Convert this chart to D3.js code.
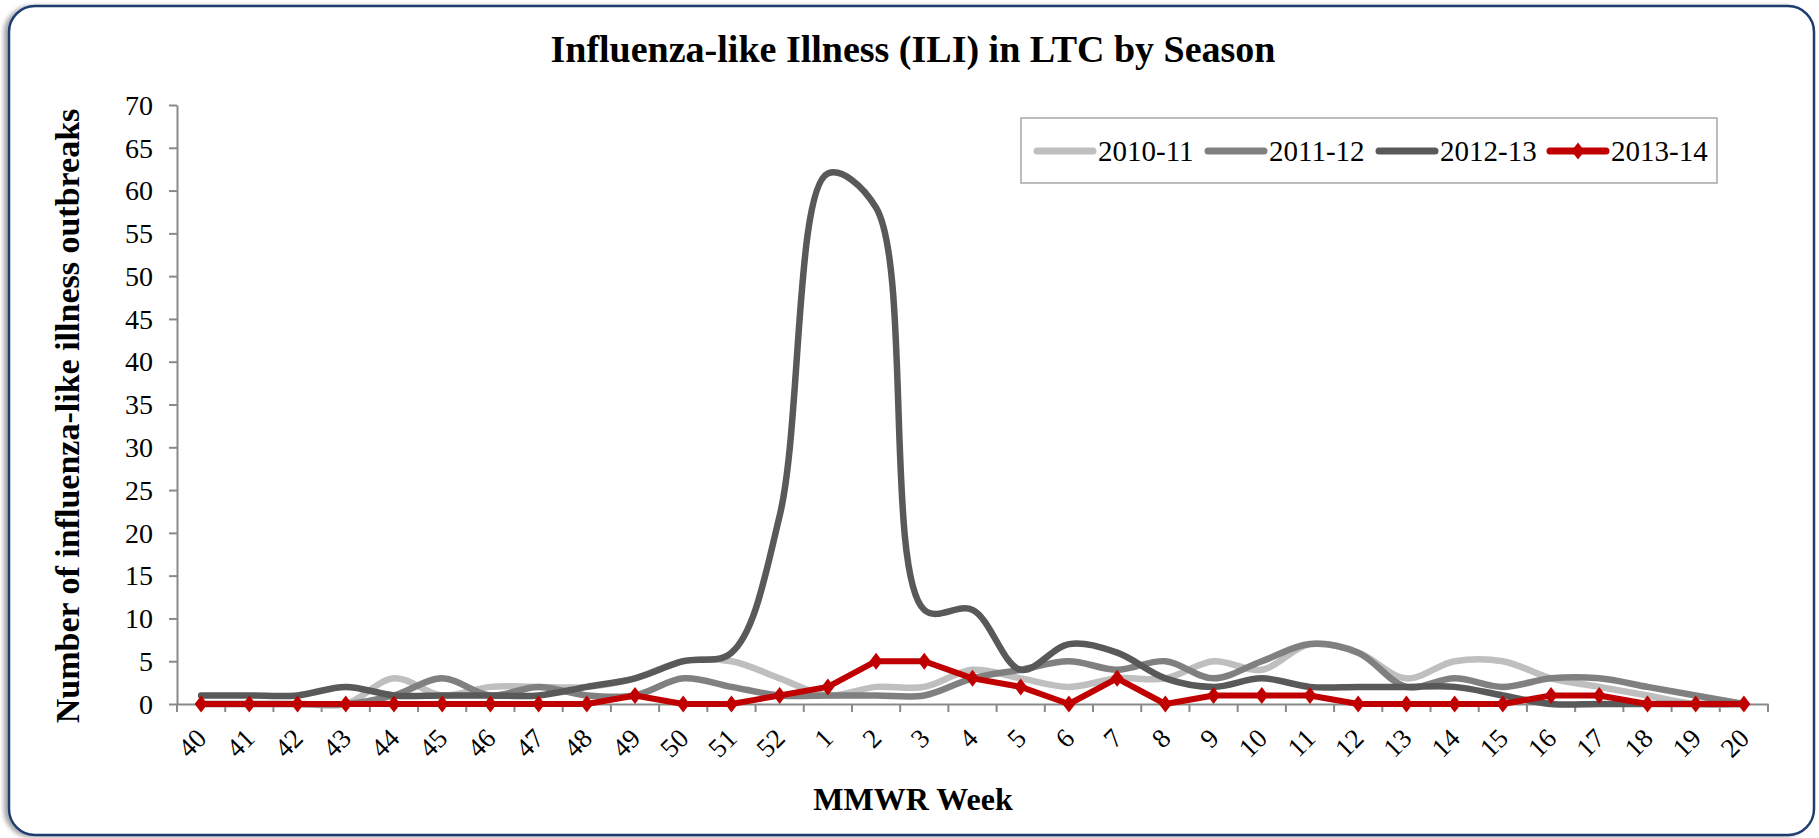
<!DOCTYPE html>
<html>
<head>
<meta charset="utf-8">
<script src="https://cdnjs.cloudflare.com/ajax/libs/d3/7.8.5/d3.min.js"></script>
<style>
    body { margin: 0; background: #fff; }
    svg { display: block; }
    text { font-family: "Liberation Serif", "Times New Roman", serif; fill: #000; }
</style>
</head>
<body>
<script>
// MMWR weeks, season runs week 40 -> week 20
var weeks = ["40", "41", "42", "43", "44", "45", "46", "47", "48", "49", "50", "51", "52",
             "1", "2", "3", "4", "5", "6", "7", "8", "9", "10", "11", "12", "13", "14", "15",
             "16", "17", "18", "19", "20"];

var season1011 = [0, 0, 0, 0, 3, 1, 2, 2, 2, 3, 5, 5, 3, 1, 2, 2, 4, 3, 2, 3, 3, 5, 4, 7, 6, 3, 5, 5, 3, 2, 1, 0, 0];
var season1112 = [0, 0, 0, 0, 1, 3, 1, 2, 1, 1, 3, 2, 1, 1, 1, 1, 3, 4, 5, 4, 5, 3, 5, 7, 6, 2, 3, 2, 3, 3, 2, 1, 0];
var season1213 = [1, 1, 1, 2, 1, 1, 1, 1, 2, 3, 5, 6, 22, 62, 58, 11, 11, 4, 7, 6, 3, 2, 3, 2, 2, 2, 2, 1, 0, 0, 0, 0, 0];
var season1314 = [0, 0, 0, 0, 0, 0, 0, 0, 0, 1, 0, 0, 1, 2, 5, 5, 3, 2, 0, 3, 0, 1, 1, 1, 0, 0, 0, 0, 1, 1, 0, 0, 0];

var seasonNames = ["2010-11", "2011-12", "2012-13", "2013-14"];
var yTicks = d3.range(0, 71, 5);

var colors = ["#bfbfbf", "#808080", "#595959", "#c00000"];
var axisColor = "#898989";

var width = 1819,
    height = 838;

var svg = d3.select("body").append("svg")
    .attr("width", width)
    .attr("height", height);

// frame with a soft shadow on the left
var filter = svg.append("defs").append("filter")
    .attr("id", "shade")
    .attr("x", "-2%").attr("y", "-2%")
    .attr("width", "104%").attr("height", "104%");
filter.append("feDropShadow")
    .attr("dx", -4).attr("dy", 1)
    .attr("stdDeviation", 2)
    .attr("flood-color", "#000")
    .attr("flood-opacity", 0.35);

svg.append("rect")
    .attr("x", 9).attr("y", 6)
    .attr("width", 1805).attr("height", 829)
    .attr("rx", 26).attr("ry", 26)
    .attr("fill", "#fff")
    .attr("stroke", "#1f3d6e")
    .attr("stroke-width", 2.5)
    .attr("filter", "url(#shade)");

var x = d3.scaleBand().domain(weeks).range([177, 1768]);
var y = d3.scaleLinear().domain([0, 70]).range([704, 105]);

function cx(i) { return x(weeks[i]) + x.bandwidth() / 2; }

// y axis
var yAxis = svg.append("g")
    .attr("transform", "translate(177,0)")
    .call(d3.axisLeft(y).tickValues(yTicks).tickSize(8).tickSizeOuter(0).tickPadding(16));
yAxis.selectAll("text").style("font-size", "28px").attr("dy", "0.33em");

// x axis (labels on band centres, tick marks on band edges)
var xAxis = svg.append("g")
    .attr("transform", "translate(0," + y(0) + ")")
    .call(d3.axisBottom(x).tickSize(0).tickSizeOuter(0));
xAxis.selectAll("text")
    .style("font-size", "27px")
    .attr("text-anchor", "end")
    .attr("x", 0).attr("y", 0).attr("dy", 0)
    .attr("transform", "translate(7,36) rotate(-45)");
xAxis.selectAll(".tick line").remove();

svg.append("g").selectAll("line")
    .data(d3.range(weeks.length + 1))
    .enter().append("line")
    .attr("x1", function (d) { return x.range()[0] + d * x.step(); })
    .attr("x2", function (d) { return x.range()[0] + d * x.step(); })
    .attr("y1", y(0))
    .attr("y2", y(0) + 8)
    .attr("stroke", axisColor)
    .attr("stroke-width", 2);

svg.selectAll(".domain, .tick line")
    .attr("stroke", axisColor)
    .attr("stroke-width", 2);

// series
var smooth = d3.line()
    .x(function (d, i) { return cx(i); })
    .y(function (d) { return y(d); })
    .curve(d3.curveCatmullRom);

var straight = d3.line()
    .x(function (d, i) { return cx(i); })
    .y(function (d) { return y(d); });

var series = [season1011, season1112, season1213];
series.forEach(function (s, k) {
    svg.append("path")
        .attr("d", smooth(s))
        .attr("fill", "none")
        .attr("stroke", colors[k])
        .attr("stroke-width", 6.5)
        .attr("stroke-linejoin", "round")
        .attr("stroke-linecap", "round");
});

svg.append("path")
    .attr("d", straight(season1314))
    .attr("fill", "none")
    .attr("stroke", colors[3])
    .attr("stroke-width", 6)
    .attr("stroke-linejoin", "round");

function diamond(px, py) {
    return "M" + px + "," + (py - 8.5) + "L" + (px + 6.5) + "," + py +
           "L" + px + "," + (py + 8.5) + "L" + (px - 6.5) + "," + py + "Z";
}

svg.append("g").selectAll("path")
    .data(season1314)
    .enter().append("path")
    .attr("d", function (d, i) { return diamond(cx(i), y(d)); })
    .attr("fill", colors[3]);

// legend
var legend = svg.append("g");
legend.append("rect")
    .attr("x", 1021).attr("y", 118)
    .attr("width", 696).attr("height", 65)
    .attr("fill", "#fff")
    .attr("stroke", "#a6a6a6")
    .attr("stroke-width", 1.5);

var item = legend.selectAll(".item")
    .data(seasonNames)
    .enter().append("g")
    .attr("class", "item")
    .attr("transform", function (d, i) { return "translate(" + (1037 + i * 171) + ",151)"; });

item.append("line")
    .attr("x1", 0).attr("x2", 56)
    .attr("stroke", function (d, i) { return colors[i]; })
    .attr("stroke-width", 7)
    .attr("stroke-linecap", "round");

item.filter(function (d, i) { return i === 3; })
    .append("path")
    .attr("d", diamond(28, 0))
    .attr("fill", colors[3]);

item.append("text")
    .attr("x", 61).attr("y", 10)
    .style("font-size", "29px")
    .text(function (d) { return d; });

// titles
svg.append("text")
    .attr("x", 913).attr("y", 62)
    .attr("text-anchor", "middle")
    .style("font-size", "38px")
    .style("font-weight", "bold")
    .text("Influenza-like Illness (ILI) in LTC by Season");

svg.append("text")
    .attr("x", 913).attr("y", 810)
    .attr("text-anchor", "middle")
    .style("font-size", "32px")
    .style("font-weight", "bold")
    .text("MMWR Week");

svg.append("text")
    .attr("transform", "translate(79,416) rotate(-90)")
    .attr("text-anchor", "middle")
    .style("font-size", "34px")
    .style("font-weight", "bold")
    .text("Number of influenza-like illness outbreaks");
</script>
</body>
</html>
